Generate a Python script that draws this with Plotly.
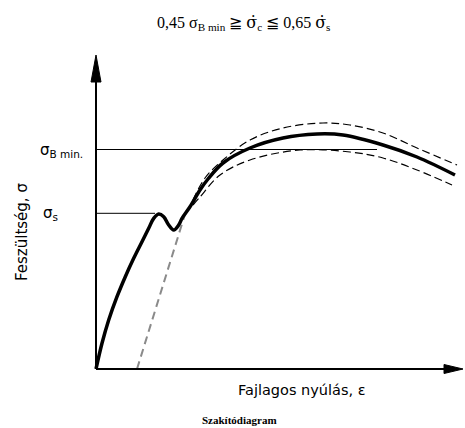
import plotly.graph_objects as go

# ---- data (strain eps, stress sigma in arbitrary units) ----
main_eps = [0, 0.6, 1.27, 2.1, 2.93, 3.77, 4.6, 5.27, 5.77, 6.27, 6.77, 7.27, 7.77, 8.27, 8.6, 9.4, 10.4, 11.2, 12.7, 15.4, 18.7, 22.1, 24.7, 28.7, 32.1, 35.9]
main_sig = [0, 2.57, 4.9, 7.23, 9.23, 11.07, 12.73, 14.07, 15.07, 15.5, 15.23, 14.4, 13.9, 14.4, 15.07, 16.23, 17.9, 19.0, 20.6, 22.1, 23.1, 23.5, 23.4, 22.4, 21.2, 19.4]

upper_eps = [9.7, 10.9, 12.7, 15.4, 18.7, 22.7, 25.4, 28.7, 32.1, 36.1]
upper_sig = [16.9, 19.1, 20.9, 22.9, 24.1, 24.6, 24.4, 23.6, 22.1, 20.4]

lower_eps = [9.7, 10.4, 12.4, 15.4, 20.4, 25.4, 28.7, 32.1, 35.6]
lower_sig = [16.4, 17.2, 19.4, 20.9, 21.9, 21.7, 21.1, 19.9, 18.4]

offset_eps = [4.1, 9.0]
offset_sig = [0.0, 15.8]

sigma_B_min = 21.95
sigma_B_end = 28.1
sigma_s = 15.57
sigma_s_end = 5.9

X_END = 36.7
Y_END = 31.4

# ---- figure ----
W, H = 465, 428
XR = [-9.6, 36.9]
YR = [-5.9, 36.9]

fig = go.Figure()

# reference lines
fig.add_trace(go.Scatter(x=[0, sigma_B_end], y=[sigma_B_min, sigma_B_min], mode="lines",
                         line=dict(color="black", width=1), hoverinfo="skip"))
fig.add_trace(go.Scatter(x=[0, sigma_s_end], y=[sigma_s, sigma_s], mode="lines",
                         line=dict(color="black", width=1), hoverinfo="skip"))
# offset gray dashed line
fig.add_trace(go.Scatter(x=offset_eps, y=offset_sig, mode="lines",
                         line=dict(color="#8a8a8a", width=2, dash="8px,5px"), hoverinfo="skip"))
# scatter band
fig.add_trace(go.Scatter(x=upper_eps, y=upper_sig, mode="lines", line_shape="spline",
                         line=dict(color="black", width=1.2, dash="8px,4px"), hoverinfo="skip"))
fig.add_trace(go.Scatter(x=lower_eps, y=lower_sig, mode="lines", line_shape="spline",
                         line=dict(color="black", width=1.2, dash="8px,4px"), hoverinfo="skip"))
# main curve
fig.add_trace(go.Scatter(x=main_eps, y=main_sig, mode="lines", line_shape="spline",
                         line=dict(color="black", width=3.5), hoverinfo="skip"))

# axes lines
fig.add_trace(go.Scatter(x=[0, 0], y=[0, Y_END - 2], mode="lines",
                         line=dict(color="black", width=2), hoverinfo="skip"))
fig.add_trace(go.Scatter(x=[0, X_END - 1.5], y=[0, 0], mode="lines",
                         line=dict(color="black", width=2), hoverinfo="skip"))

shapes = [
    dict(type="path", xref="x", yref="y",
         path=f"M {-0.5},{Y_END-2.7} L 0,{Y_END} L {0.5},{Y_END-2.7} Z",
         fillcolor="black", line=dict(color="black", width=1)),
    dict(type="path", xref="x", yref="y",
         path=f"M {X_END-1.9},{-0.45} L {X_END},0 L {X_END-1.9},{0.45} Z",
         fillcolor="black", line=dict(color="black", width=1)),
]

def px(xp):
    return xp / W

def py(yp):
    return 1 - yp / H

SERIF_DOT = '<span style="font-family:DejaVu Serif">σ̇</span>'
ann = [
    dict(x=px(243), y=py(23),
         text=f"0,45 σ<sub>B min</sub> ≧ {SERIF_DOT}<sub>c</sub> ≦ 0,65 {SERIF_DOT}<sub>s</sub>",
         font=dict(family="Liberation Serif", size=16, color="black")),
    dict(x=px(61), y=py(150),
         text="σ<sub>B min.</sub>", font=dict(family="DejaVu Sans", size=15, color="black")),
    dict(x=px(50), y=py(213),
         text="σ<sub>s</sub>", font=dict(family="DejaVu Sans", size=15, color="black")),
    dict(x=px(22), y=py(232), textangle=-90,
         text="Feszültség, σ", font=dict(family="DejaVu Sans", size=15, color="black")),
    dict(x=px(302), y=py(390),
         text="Fajlagos nyúlás, ε", font=dict(family="DejaVu Sans", size=14.5, color="black")),
    dict(x=px(239), y=py(420),
         text="<b>Szakítódiagram</b>", font=dict(family="Liberation Serif", size=11, color="black")),
]
for a in ann:
    a.update(xref="paper", yref="paper", showarrow=False, xanchor="center", yanchor="middle")

fig.update_layout(
    width=W, height=H, autosize=False,
    margin=dict(l=0, r=0, t=0, b=0),
    paper_bgcolor="white", plot_bgcolor="white",
    showlegend=False,
    xaxis=dict(range=XR, visible=False, fixedrange=True),
    yaxis=dict(range=YR, visible=False, fixedrange=True),
    shapes=shapes, annotations=ann,
)

fig.write_html("out.html", config={"displayModeBar": False},
               post_script="document.body.style.margin='0';document.body.style.overflow='hidden';")
